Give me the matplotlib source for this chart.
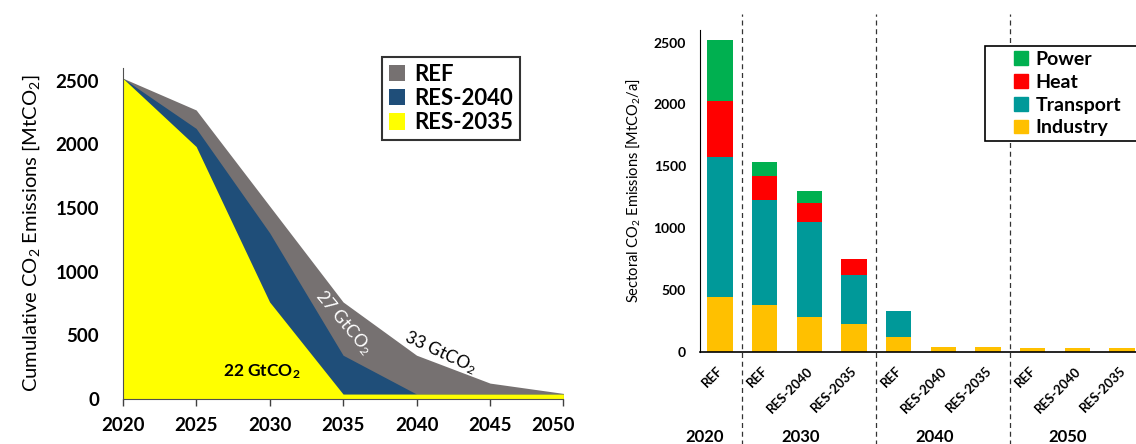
import matplotlib
matplotlib.use("Agg")
from matplotlib import pyplot as plt
from matplotlib.patches import Patch, Rectangle
from matplotlib.transforms import blended_transform_factory, ScaledTranslation

plt.rcParams['font.family'] = ['Lato', 'DejaVu Sans']
plt.rcParams['mathtext.fontset'] = 'custom'
plt.rcParams['mathtext.rm'] = 'Lato'
plt.rcParams['mathtext.it'] = 'Lato:italic'
plt.rcParams['mathtext.bf'] = 'Lato:bold'

# left panel: cumulative emissions pathways
years = [2020, 2025, 2030, 2035, 2040, 2045, 2050]
ref = [2520, 2270, 1516, 763, 345, 126, 45]
res_2040 = [2520, 2125, 1306, 345, 40, 40, 40]
res_2035 = [2520, 1983, 763, 40, 40, 40, 40]

# right panel: sectoral emissions
bar_labels = ['REF', 'REF', 'RES-2040', 'RES-2035', 'REF', 'RES-2040', 'RES-2035',
              'REF', 'RES-2040', 'RES-2035']
industry = [446, 379, 285, 228, 118, 38, 38, 32, 32, 32]
transport = [1133, 851, 762, 398, 215, 0, 0, 0, 0, 0]
heat = [448, 193, 156, 129, 0, 0, 0, 0, 0, 0]
power = [497, 113, 99, 0, 0, 0, 0, 0, 0, 0]
group_labels = ['2020', '2030', '2040', '2050']
group_pos = [-0.34, 1.81, 4.81, 7.79]
separators = [0.5, 3.5, 6.5]

fig = plt.figure(figsize=(11.36, 4.44), dpi=100)

# ---- left chart ----
ax1 = fig.add_axes([0.108, 0.101, 0.388, 0.746])
ax1.fill_between(years, ref, 0, color='#767171', lw=0, label='REF')
ax1.fill_between(years, res_2040, 0, color='#1F4E79', lw=0, label='RES-2040')
ax1.fill_between(years, res_2035, 0, color='#FFFF00', lw=0, label='RES-2035')
ax1.set_xlim(2020, 2050)
ax1.set_ylim(0, 2600)
ax1.set_xticks(years)
ax1.set_yticks([0, 500, 1000, 1500, 2000, 2500])
ax1.tick_params(axis='both', labelsize=13.5, width=1, color='#404040')
ax1.tick_params(axis='y', length=0, pad=17)
ax1.tick_params(axis='x', length=5, pad=8)
for lab in ax1.get_xticklabels() + ax1.get_yticklabels():
    lab.set_fontweight('bold')
# last year label is pulled in a little, as in the original
last = ax1.get_xticklabels()[-1]
last.set_transform(last.get_transform() + ScaledTranslation(-10 / 100, 0, fig.dpi_scale_trans))
for s in ['top', 'right']:
    ax1.spines[s].set_visible(False)
for s in ['left', 'bottom']:
    ax1.spines[s].set_color('#505050')
ax1.set_ylabel('Cumulative CO$_2$ Emissions [MtCO$_2$]', fontsize=14.5, labelpad=10)

ax1.text(2029.5, 215, r'22 GtCO$_\mathbf{2}$', fontsize=12.5, fontweight='bold',
         ha='center', va='center')
ax1.text(2035.0, 600, '27 GtCO$_2$', fontsize=12.5, color='white', ha='center',
         va='center', rotation=-50)
ax1.text(2041.6, 370, '33 GtCO$_2$', fontsize=12.5, ha='center', va='center', rotation=-25)

leg1 = ax1.legend(loc='upper left', bbox_to_anchor=(382 / 1136, 1 - 57 / 444),
                  bbox_transform=fig.transFigure, frameon=True, borderaxespad=0,
                  fancybox=False, edgecolor='black', handlelength=0.75, handleheight=0.75,
                  handletextpad=0.4, borderpad=0.3, labelspacing=0.15,
                  prop={'weight': 'bold', 'size': 16})
leg1.get_frame().set_linewidth(1.5)

# ---- right chart ----
ax2 = fig.add_axes([0.616, 0.207, 0.384, 0.725])
x = list(range(len(bar_labels)))
w = 0.57
b1 = industry
b2 = [a + b for a, b in zip(b1, transport)]
b3 = [a + b for a, b in zip(b2, heat)]
ax2.bar(x, industry, w, color='#FFC000', label='Industry')
ax2.bar(x, transport, w, bottom=b1, color='#009999', label='Transport')
ax2.bar(x, heat, w, bottom=b2, color='#FF0000', label='Heat')
ax2.bar(x, power, w, bottom=b3, color='#00B050', label='Power')
ax2.set_xlim(-0.45, 9.31)
ax2.set_ylim(0, 2600)
ax2.set_yticks([0, 500, 1000, 1500, 2000, 2500])
ax2.set_xticks(x)
ax2.set_xticklabels(bar_labels, rotation=45, ha='right', rotation_mode='anchor')
ax2.tick_params(axis='x', length=0, labelsize=9.5, pad=9)
ax2.tick_params(axis='y', length=0, labelsize=10, pad=10)
shift = ScaledTranslation(-3 / 100, 0, fig.dpi_scale_trans)
for lab in ax2.get_xticklabels():
    lab.set_fontweight('bold')
    lab.set_transform(lab.get_transform() + shift)
for lab in ax2.get_yticklabels():
    lab.set_fontweight('bold')
for s in ['top', 'right']:
    ax2.spines[s].set_visible(False)
ax2.spines['bottom'].set_linewidth(1.2)
ax2.set_ylabel('Sectoral CO$_2$ Emissions [MtCO$_2$/a]', fontsize=10.5, labelpad=8)

trans = blended_transform_factory(ax2.transData, ax2.transAxes)
for sx in separators:
    ax2.plot([sx, sx], [-0.29, 1.05], transform=trans, color='#333333', lw=0.9,
             ls=(0, (4, 3)), clip_on=False, zorder=1)
for lab, gx in zip(group_labels, group_pos):
    ax2.text(gx, -0.265, lab, transform=trans, fontsize=12, fontweight='bold',
             ha='center', va='center')

# legend box runs off the right edge of the picture, entries sit indented
box = Rectangle((985 / 1136, 1 - 141 / 444), 0.2, 95 / 444, transform=fig.transFigure,
                facecolor='white', edgecolor='black', lw=1.2, clip_on=False, zorder=4)
ax2.add_patch(box)
handles = [Patch(color='#00B050', label='Power'), Patch(color='#FF0000', label='Heat'),
           Patch(color='#009999', label='Transport'), Patch(color='#FFC000', label='Industry')]
leg2 = ax2.legend(handles=handles, loc='upper left', bbox_to_anchor=(1010 / 1136, 1 - 47 / 444),
                  bbox_transform=fig.transFigure, frameon=False,
                  handlelength=0.7, handleheight=0.7, handletextpad=0.4,
                  borderpad=0.2, labelspacing=0.3, borderaxespad=0,
                  prop={'weight': 'bold', 'size': 14})
leg2.set_zorder(5)

fig.savefig('out.png', dpi=100)
